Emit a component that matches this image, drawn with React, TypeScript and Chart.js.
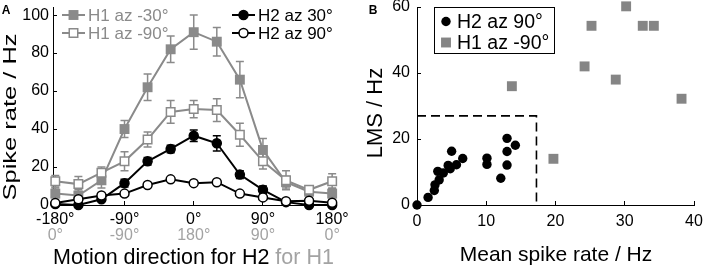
import React, { useEffect, useRef } from "react";
import { Chart, registerables } from "chart.js";

Chart.register(...registerables);

// ---------------- Panel A data ----------------
const DIRECTIONS = [-180, -150, -120, -90, -60, -30, 0, 30, 60, 90, 120, 150, 180];
const H1_AZ_M30 = [6, 5, 13, 40, 62, 82, 91, 86, 66, 29, 12, 7, 6];
const H1_AZ_M30_ERR = [3, 3, 4, 4.5, 7, 7, 9, 7.5, 9.5, 6, 3, 2, 3];
const H1_AZ_M90 = [12.5, 11, 17, 23, 34.5, 49, 50.5, 50, 37, 23, 13, 8, 12.5];
const H1_AZ_M90_ERR = [3, 4, 3, 5, 4, 6, 4.5, 6, 6, 4, 5, 2, 4];
const H2_AZ_30 = [0.5, 0, 3, 11.5, 23, 29.5, 36.5, 32.5, 16, 8, 1.5, 0, 0];
const H2_AZ_30_ERR = [1, 1, 1, 2, 2, 2, 3, 4, 2, 2, 1, 1, 1];
const H2_AZ_90 = [1, 3, 5, 6, 10.5, 13.5, 11.5, 12, 6, 4, 2, 2.3, 1.2];
const H2_AZ_90_ERR = [1, 1, 1, 1, 1, 1, 1, 1, 1, 1, 1, 1, 1];

const X_TICKS_A = [-180, -90, 0, 90, 180];
const X_LABELS_H2 = ["-180°", "-90°", "0°", "90°", "180°"];
const X_LABELS_H1 = ["0°", "-90°", "180°", "90°", "0°"];
const Y_TICKS_A = [0, 20, 40, 60, 80, 100];

// ---------------- Panel B data ----------------
const H2_MEAN = [0, 1.6, 2.5, 2.6, 3.2, 3.0, 3.8, 4.5, 4.8, 5.0, 5.7, 6.6, 10.1, 10.1, 12.1, 13.0, 13.0, 13.0, 14.2];
const H2_LMS = [0, 2.3, 4.4, 6.1, 7.6, 10.2, 9.7, 12, 11, 16.3, 12.2, 14.1, 14.2, 12.3, 8.1, 12.1, 16.2, 20.2, 18.1];
const H1_MEAN = [13.7, 19.7, 24.2, 25.2, 28.7, 30.2, 32.6, 34.2, 38.2];
const H1_LMS = [36, 14, 42, 54.3, 38, 60.2, 54.3, 54.3, 32.2];
const BOX_X = [0, 17.25, 17.25];
const BOX_Y = [27, 27, 0];
const X_TICKS_B = [0, 10, 20, 30, 40];
const Y_TICKS_B = [0, 20, 40, 60];

const FONT = "'Liberation Sans', Arial, Helvetica, sans-serif";
const GRAY = "#8a8a8a";
const LIGHT_GRAY = "#a3a3a3";
const BLACK = "#000000";

const pts = (xs: number[], ys: number[]) => xs.map((x, i) => ({ x, y: ys[i] }));

function drawMarker(ctx: CanvasRenderingContext2D, style: string, x: number, y: number, r: number, fill: string, stroke: string, lw: number) {
  ctx.beginPath();
  if (style === "circle") ctx.arc(x, y, r, 0, Math.PI * 2);
  else {
    const s = r * Math.SQRT1_2;
    ctx.rect(x - s, y - s, 2 * s, 2 * s);
  }
  ctx.fillStyle = fill;
  ctx.fill();
  if (lw > 0) {
    ctx.lineWidth = lw;
    ctx.strokeStyle = stroke;
    ctx.stroke();
  }
}

function errorBarsPlugin(errs: (number[] | null)[]) {
  return {
    id: "errorBars",
    beforeDatasetsDraw(chart: any) {
      const ctx = chart.ctx;
      const xs = chart.scales.x;
      const ys = chart.scales.y;
      for (let d = chart.data.datasets.length - 1; d >= 0; d--) {
        const e = errs[d];
        if (!e) continue;
        const ds = chart.data.datasets[d];
        ctx.save();
        ctx.strokeStyle = ds.borderColor;
        ctx.lineWidth = 1.5;
        ds.data.forEach((p: any, i: number) => {
          const px = xs.getPixelForValue(p.x);
          const t = ys.getPixelForValue(p.y + e[i]);
          const b = ys.getPixelForValue(p.y - e[i]);
          ctx.beginPath();
          ctx.moveTo(px, t);
          ctx.lineTo(px, b);
          ctx.moveTo(px - 4, t);
          ctx.lineTo(px + 4, t);
          ctx.moveTo(px - 4, b);
          ctx.lineTo(px + 4, b);
          ctx.stroke();
        });
        ctx.restore();
      }
    },
  };
}

function drawYTitle(ctx: CanvasRenderingContext2D, text: string, cx: number, cy: number, size: number, targetLen: number | null) {
  ctx.save();
  ctx.font = `${size}px ${FONT}`;
  ctx.fillStyle = BLACK;
  ctx.textAlign = "center";
  ctx.textBaseline = "middle";
  ctx.translate(cx, cy);
  ctx.rotate(-Math.PI / 2);
  if (targetLen) {
    const w = ctx.measureText(text).width;
    ctx.scale(targetLen / w, 1);
  }
  ctx.fillText(text, 0, 0);
  ctx.restore();
}

function panelLabel(ctx: CanvasRenderingContext2D, text: string, x: number, y: number) {
  ctx.save();
  ctx.font = `bold 12px ${FONT}`;
  ctx.fillStyle = BLACK;
  ctx.textAlign = "center";
  ctx.textBaseline = "middle";
  ctx.fillText(text, x, y);
  ctx.restore();
}

const decorationsA = {
  id: "decorationsA",
  afterDraw(chart: any) {
    const ctx: CanvasRenderingContext2D = chart.ctx;
    const ds = chart.data.datasets;
    // legend: [datasetIndex, lineX0, lineX1, y, textColor]
    const items: [number, number, number, number, string][] = [
      [3, 62, 85, 15, GRAY],
      [2, 62, 85, 33, GRAY],
      [1, 232, 255, 15, BLACK],
      [0, 232, 255, 33, BLACK],
    ];
    ctx.save();
    items.forEach(([di, x0, x1, y, tc]) => {
      const d = ds[di];
      ctx.beginPath();
      ctx.moveTo(x0, y);
      ctx.lineTo(x1, y);
      ctx.strokeStyle = d.borderColor;
      ctx.lineWidth = d.borderWidth;
      ctx.stroke();
      drawMarker(ctx, d.pointStyle, (x0 + x1) / 2, y, d.pointRadius, d.pointBackgroundColor, d.pointBorderColor, d.pointBorderWidth);
      ctx.font = `17px ${FONT}`;
      ctx.fillStyle = tc;
      ctx.textAlign = "left";
      ctx.textBaseline = "middle";
      ctx.fillText(d.label, x1 + 3, y + 1);
    });
    // x title with two colours
    const a = "Motion direction for H2 ";
    const b = "for H1";
    ctx.font = `21.5px ${FONT}`;
    const wa = ctx.measureText(a).width;
    const wb = ctx.measureText(b).width;
    const area = chart.chartArea;
    const cx = (area.left + area.right) / 2 - 1;
    const x0 = cx - (wa + wb) / 2;
    ctx.textAlign = "left";
    ctx.textBaseline = "middle";
    ctx.fillStyle = BLACK;
    ctx.fillText(a, x0, 258);
    ctx.fillStyle = LIGHT_GRAY;
    ctx.fillText(b, x0 + wa, 258);
    ctx.restore();
    drawYTitle(ctx, "Spike rate / Hz", 11, 117, 19, 167);
    panelLabel(ctx, "A", 6, 11);
  },
};

const decorationsB = {
  id: "decorationsB",
  afterDraw(chart: any) {
    const ctx: CanvasRenderingContext2D = chart.ctx;
    const ds = chart.data.datasets;
    ctx.save();
    ctx.strokeStyle = BLACK;
    ctx.lineWidth = 1;
    ctx.strokeRect(74.5, 7.5, 120, 46);
    const items: [number, number][] = [
      [0, 21.5],
      [1, 42.5],
    ];
    items.forEach(([di, y]) => {
      const d = ds[di];
      drawMarker(ctx, d.pointStyle, 86, y, d.pointRadius, d.pointBackgroundColor, d.pointBorderColor, 0);
      ctx.font = `19.5px ${FONT}`;
      ctx.fillStyle = BLACK;
      ctx.textAlign = "left";
      ctx.textBaseline = "middle";
      ctx.fillText(d.label, 97, y + 1);
    });
    ctx.font = `21px ${FONT}`;
    ctx.textAlign = "center";
    ctx.textBaseline = "middle";
    ctx.fillText("Mean spike rate / Hz", 196, 255);
    ctx.restore();
    drawYTitle(ctx, "LMS / Hz", 16, 113, 22, null);
    panelLabel(ctx, "B", 13, 11);
  },
};

function tickFont() {
  return { family: FONT, size: 16 };
}

function ChartA() {
  const ref = useRef<HTMLCanvasElement | null>(null);
  useEffect(() => {
    if (!ref.current) return;
    const chart = new Chart(ref.current, {
      type: "line",
      data: {
        datasets: [
          {
            label: "H2 az 90°",
            data: pts(DIRECTIONS, H2_AZ_90),
            borderColor: BLACK,
            borderWidth: 2,
            pointStyle: "circle",
            pointRadius: 4.5,
            pointBorderWidth: 1.5,
            pointBackgroundColor: "#ffffff",
            pointBorderColor: BLACK,
            clip: false,
          },
          {
            label: "H2 az 30°",
            data: pts(DIRECTIONS, H2_AZ_30),
            borderColor: BLACK,
            borderWidth: 2,
            pointStyle: "circle",
            pointRadius: 4.5,
            pointBorderWidth: 1.5,
            pointBackgroundColor: BLACK,
            pointBorderColor: BLACK,
            clip: false,
          },
          {
            label: "H1 az -90°",
            data: pts(DIRECTIONS, H1_AZ_M90),
            borderColor: GRAY,
            borderWidth: 2,
            pointStyle: "rect",
            pointRadius: 6,
            pointBorderWidth: 1.5,
            pointBackgroundColor: "#ffffff",
            pointBorderColor: GRAY,
            clip: false,
          },
          {
            label: "H1 az -30°",
            data: pts(DIRECTIONS, H1_AZ_M30),
            borderColor: GRAY,
            borderWidth: 2,
            pointStyle: "rect",
            pointRadius: 7,
            pointBorderWidth: 0,
            pointBackgroundColor: GRAY,
            pointBorderColor: GRAY,
            clip: false,
          },
        ] as any,
      },
      options: {
        responsive: false,
        animation: false,
        events: [],
        layout: { padding: { left: 0, top: 7, right: 24, bottom: 0 } },
        plugins: { legend: { display: false }, tooltip: { enabled: false } },
        scales: {
          x: {
            type: "linear",
            position: "bottom",
            weight: 0,
            min: -183,
            max: 185,
            afterBuildTicks: (s: any) => {
              s.ticks = X_TICKS_A.map((v) => ({ value: v }));
            },
            afterFit: (s: any) => {
              s.height = 20;
              s.paddingLeft = 0;
              s.paddingRight = 0;
            },
            grid: { display: true, drawOnChartArea: false, drawTicks: true, tickLength: -4, color: BLACK, lineWidth: 1 },
            border: { display: true, color: BLACK, width: 1 },
            ticks: {
              autoSkip: false,
              maxRotation: 0,
              padding: 9.4,
              color: BLACK,
              font: tickFont(),
              callback: (v: any) => X_LABELS_H2[X_TICKS_A.indexOf(Number(v))],
            },
          },
          x2: {
            type: "linear",
            position: "bottom",
            weight: 1,
            min: -183,
            max: 185,
            afterBuildTicks: (s: any) => {
              s.ticks = X_TICKS_A.map((v) => ({ value: v }));
            },
            afterFit: (s: any) => {
              s.height = 49;
              s.paddingLeft = 0;
              s.paddingRight = 0;
            },
            grid: { display: false, drawTicks: false },
            border: { display: false },
            ticks: {
              autoSkip: false,
              maxRotation: 0,
              padding: 1.4,
              color: LIGHT_GRAY,
              font: tickFont(),
              callback: (v: any) => X_LABELS_H1[X_TICKS_A.indexOf(Number(v))],
            },
          },
          y: {
            type: "linear",
            min: 0,
            max: 104,
            afterBuildTicks: (s: any) => {
              s.ticks = Y_TICKS_A.map((v) => ({ value: v }));
            },
            afterFit: (s: any) => {
              s.width = 53;
              s.paddingTop = 0;
              s.paddingBottom = 0;
            },
            grid: { display: true, drawOnChartArea: false, drawTicks: true, tickLength: -4, color: BLACK, lineWidth: 1 },
            border: { display: true, color: BLACK, width: 1 },
            ticks: { padding: 8, color: BLACK, font: tickFont() },
          },
        },
      } as any,
      plugins: [errorBarsPlugin([H2_AZ_90_ERR, H2_AZ_30_ERR, H1_AZ_M90_ERR, H1_AZ_M30_ERR]), decorationsA],
    });
    return () => chart.destroy();
  }, []);
  return <canvas ref={ref} width={360} height={274} style={{ position: "absolute", left: 0, top: 0, width: 360, height: 274 }} />;
}

function ChartB() {
  const ref = useRef<HTMLCanvasElement | null>(null);
  useEffect(() => {
    if (!ref.current) return;
    const chart = new Chart(ref.current, {
      type: "scatter",
      data: {
        datasets: [
          {
            label: "H2 az 90°",
            data: pts(H2_MEAN, H2_LMS),
            pointStyle: "circle",
            pointRadius: 4.7,
            pointBorderWidth: 0,
            pointBackgroundColor: BLACK,
            pointBorderColor: BLACK,
            clip: false,
          },
          {
            label: "H1 az -90°",
            data: pts(H1_MEAN, H1_LMS),
            pointStyle: "rect",
            pointRadius: 7,
            pointBorderWidth: 0,
            pointBackgroundColor: "#858585",
            pointBorderColor: "#858585",
            clip: false,
          },
          {
            label: "box",
            data: pts(BOX_X, BOX_Y),
            showLine: true,
            pointRadius: 0,
            borderColor: BLACK,
            borderWidth: 1.6,
            borderDash: [9, 5],
            clip: false,
          },
        ] as any,
      },
      options: {
        responsive: false,
        animation: false,
        events: [],
        layout: { padding: { left: 0, top: 7, right: 10, bottom: 0 } },
        plugins: { legend: { display: false }, tooltip: { enabled: false } },
        scales: {
          x: {
            type: "linear",
            position: "bottom",
            min: 0,
            max: 40,
            afterBuildTicks: (s: any) => {
              s.ticks = X_TICKS_B.map((v) => ({ value: v }));
            },
            afterFit: (s: any) => {
              s.height = 69;
              s.paddingLeft = 0;
              s.paddingRight = 0;
            },
            grid: { display: true, drawOnChartArea: false, drawTicks: true, tickLength: -4, color: BLACK, lineWidth: 1 },
            border: { display: true, color: BLACK, width: 1 },
            ticks: { autoSkip: false, maxRotation: 0, padding: 11.4, color: BLACK, font: tickFont() },
          },
          y: {
            type: "linear",
            min: 0,
            max: 60,
            afterBuildTicks: (s: any) => {
              s.ticks = Y_TICKS_B.map((v) => ({ value: v }));
            },
            afterFit: (s: any) => {
              s.width = 57;
              s.paddingTop = 0;
              s.paddingBottom = 0;
            },
            grid: { display: true, drawOnChartArea: false, drawTicks: true, tickLength: -4, color: BLACK, lineWidth: 1 },
            border: { display: true, color: BLACK, width: 1 },
            ticks: { padding: 11, color: BLACK, font: tickFont() },
          },
        },
      } as any,
      plugins: [decorationsB],
    });
    return () => chart.destroy();
  }, []);
  return <canvas ref={ref} width={344} height={274} style={{ position: "absolute", left: 360, top: 0, width: 344, height: 274 }} />;
}

export default function App() {
  return (
    <div style={{ position: "absolute", left: 0, top: 0, width: 704, height: 274, background: "#ffffff", overflow: "hidden" }}>
      <ChartA />
      <ChartB />
    </div>
  );
}
